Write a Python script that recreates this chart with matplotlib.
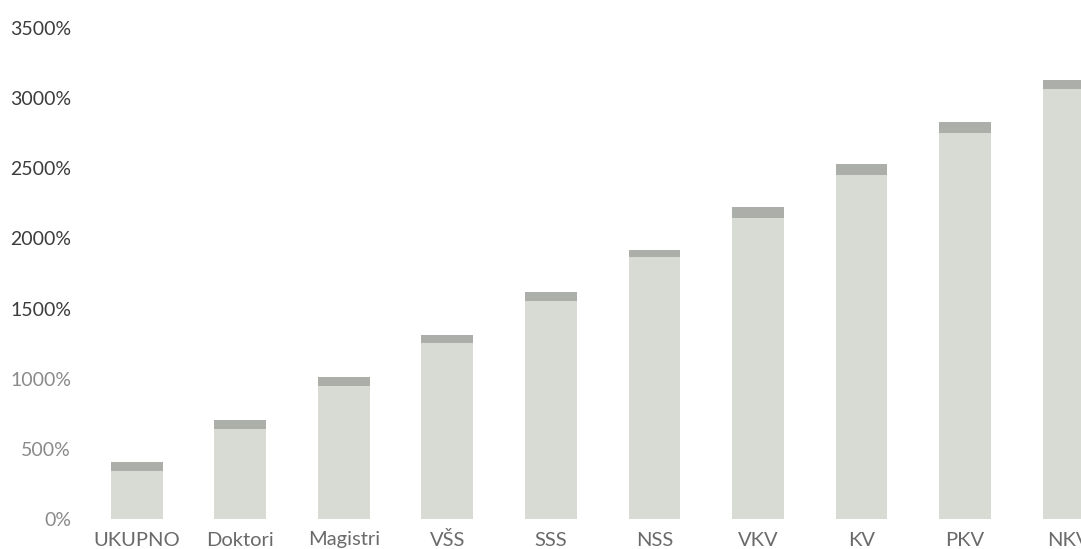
import matplotlib
matplotlib.use("Agg")
import matplotlib.pyplot as plt
from matplotlib.ticker import FuncFormatter

categories = ["UKUPNO", "Doktori", "Magistri", "VŠS", "SSS", "NSS", "VKV", "KV", "PKV", "NKV"]
totals = [405, 705, 1010, 1315, 1615, 1920, 2225, 2530, 2830, 3130]
caps = [60, 60, 60, 60, 60, 55, 80, 80, 75, 65]
base = [t - c for t, c in zip(totals, caps)]
y_ticks = [0, 500, 1000, 1500, 2000, 2500, 3000, 3500]

plt.rcParams["font.family"] = ["Lato", "DejaVu Sans"]

fig = plt.figure(figsize=(10.81, 5.49), dpi=100)
ax = fig.add_axes([85 / 1081, 30 / 549, 1 - 85 / 1081, (519 - 28) / 549])

x = list(range(len(categories)))
ax.bar(x, base, width=0.5, color="#d8dbd4", edgecolor="none")
ax.bar(x, caps, bottom=base, width=0.5, color="#acaea9", edgecolor="none")

ax.set_xlim(-0.5, 9.12)
ax.set_ylim(0, 3500)
ax.set_yticks(y_ticks)
ax.yaxis.set_major_formatter(FuncFormatter(lambda v, _: f"{v:.0f}%"))
ax.set_xticks(x)
ax.set_xticklabels(categories)

for s in ax.spines.values():
    s.set_visible(False)
ax.tick_params(axis="both", length=0)
ax.tick_params(axis="y", labelsize=14, labelcolor="#3c3c3c", pad=10)
ax.tick_params(axis="x", labelsize=14.5, labelcolor="#6a6a6a", pad=9)
for lbl in ax.get_yticklabels()[:3]:
    lbl.set_color("#8a8a8a")

fig.savefig("out.png", dpi=100)
